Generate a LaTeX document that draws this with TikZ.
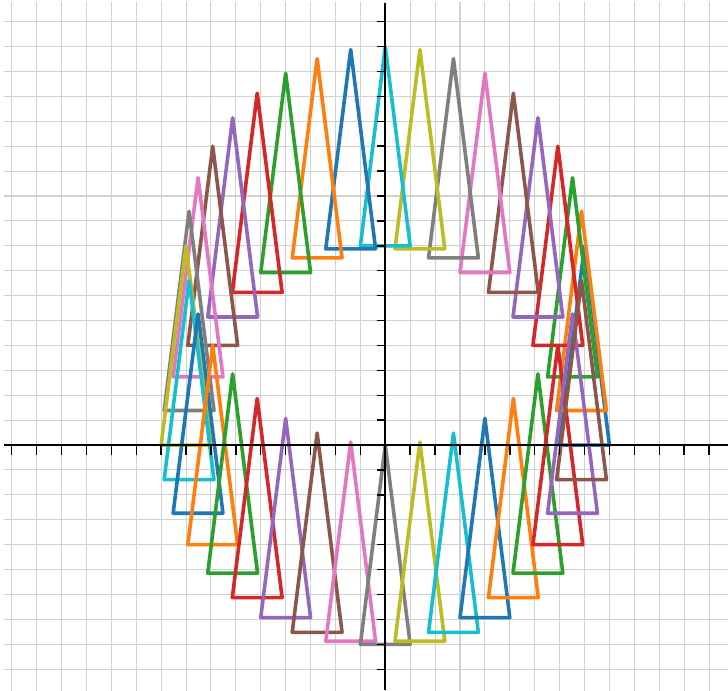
\documentclass[tikz,border=0pt]{standalone}
\definecolor{c0}{HTML}{1F77B4}
\definecolor{c1}{HTML}{FF7F0E}
\definecolor{c2}{HTML}{2CA02C}
\definecolor{c3}{HTML}{D62728}
\definecolor{c4}{HTML}{9467BD}
\definecolor{c5}{HTML}{8C564B}
\definecolor{c6}{HTML}{E377C2}
\definecolor{c7}{HTML}{7F7F7F}
\definecolor{c8}{HTML}{BCBD22}
\definecolor{c9}{HTML}{17BECF}
\tikzset{
  gridline/.style={draw=black!18, line width=1.2pt},
  tri/.style={line width=4.1pt, line join=round, line cap=round},
  axisline/.style={draw=black, line width=2.2pt},
  tickmark/.style={draw=black, line width=1.6pt}
}
\begin{document}
\begin{tikzpicture}[x=1cm,y=1cm]
\useasboundingbox (-15.47,-9.84) rectangle (13.76,17.87);
\fill[white] (-15.47,-9.84) rectangle (13.76,17.87);
\begin{scope}
  \clip (-15.31,-9.84) rectangle (13.76,17.75);
  \draw[gridline] (-16,-10) grid (14,18);
\end{scope}
\foreach \i in {0,...,35}{
  \pgfmathtruncatemacro\ci{mod(\i,10)}
  \draw[tri, draw=c\ci] ({8*cos(10*\i)-1},{8*sin(10*\i)}) -- ++(2,0) -- ++(-1,8) -- cycle;
}
\coordinate (xl) at (-15.31,0);
\coordinate (xr) at (13.76,0);
\coordinate (yb) at (0,-9.84);
\coordinate (yt) at (0,17.75);
\draw[axisline] (xl) -- (xr);
\draw[axisline] (yb) -- (yt);
\foreach \x in {-15,...,-1,1,2,...,13}{
  \draw[tickmark] (\x,0) -- (\x,-0.38);
}
\foreach \y in {-9,...,-1,1,2,...,17}{
  \draw[tickmark] (0,\y) -- (-0.33,\y);
}
\end{tikzpicture}
\end{document}
